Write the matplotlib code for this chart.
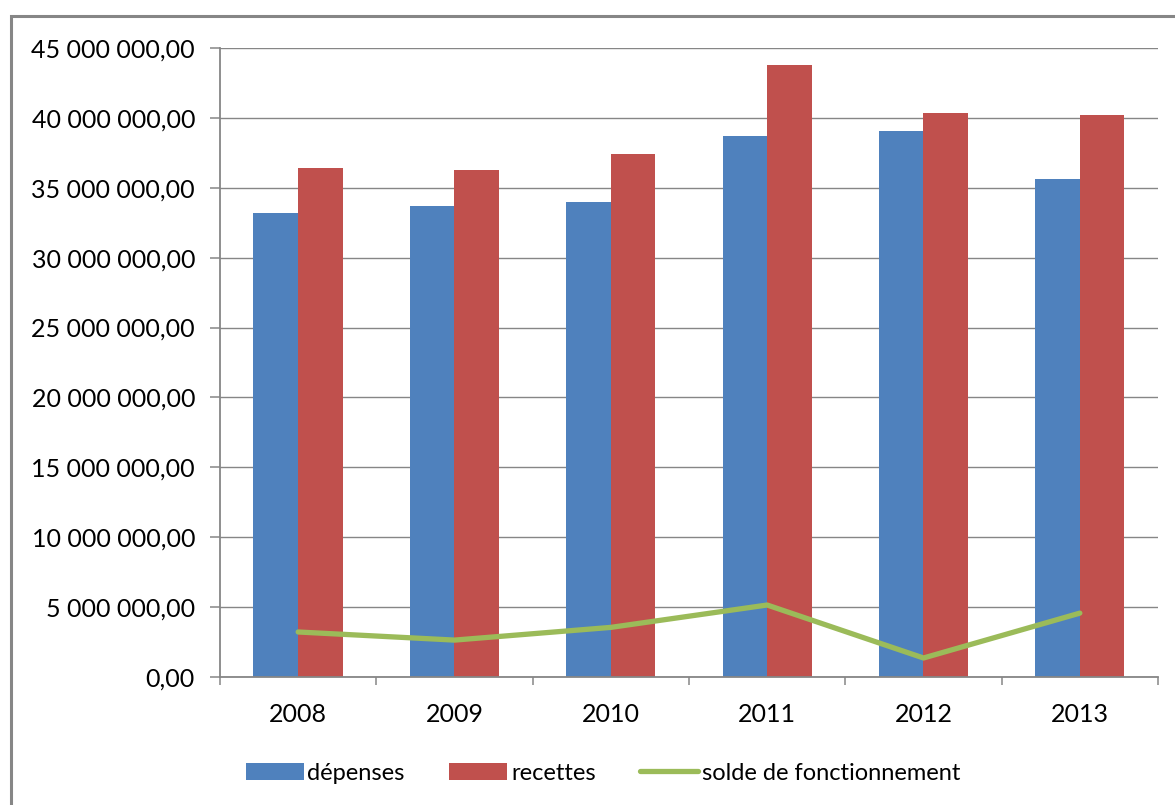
import matplotlib.pyplot as plt
import matplotlib.patches as mpatches
from matplotlib.ticker import FuncFormatter, FixedLocator
import numpy as np

plt.rcParams['font.family'] = ['Lato', 'DejaVu Sans']

# data
years = ['2008', '2009', '2010', '2011', '2012', '2013']
depenses = [33.20e6, 33.70e6, 33.99e6, 38.72e6, 39.08e6, 35.64e6]
recettes = [36.43e6, 36.28e6, 37.43e6, 43.80e6, 40.37e6, 40.22e6]
solde = [3.22e6, 2.64e6, 3.55e6, 5.15e6, 1.36e6, 4.57e6]

blue = '#4F81BD'
red = '#C0504D'
green = '#9BBB59'
grey = '#868686'

fig = plt.figure(figsize=(11.75, 8.05), dpi=100)
ax = fig.add_axes([220 / 1175, 1 - 677 / 805, 938 / 1175, (677 - 48) / 805])

x = np.arange(len(years))
w = 1 / 3.5
b1 = ax.bar(x - w / 2, depenses, w, color=blue, label='dépenses', zorder=2)
b2 = ax.bar(x + w / 2, recettes, w, color=red, label='recettes', zorder=2)
l1, = ax.plot(x, solde, color=green, lw=3.8, label='solde de fonctionnement',
              zorder=3, solid_capstyle='round')

ax.set_xlim(-0.5, len(years) - 0.5)
ax.set_ylim(0, 45e6)
ax.set_yticks(np.arange(0, 45e6 + 1, 5e6))


def fr_fmt(v, pos):
    s = f"{v:,.2f}"
    return s.replace(',', ' ').replace('.', ',')


ax.yaxis.set_major_formatter(FuncFormatter(fr_fmt))
ax.set_xticks(x)
ax.set_xticklabels(years)
ax.xaxis.set_minor_locator(FixedLocator(np.arange(-0.5, len(years), 1)))

ax.grid(axis='y', color=grey, lw=1.0, zorder=0)
ax.set_axisbelow(True)
for s in ['top', 'right']:
    ax.spines[s].set_visible(False)
for s in ['left', 'bottom']:
    ax.spines[s].set_color(grey)
    ax.spines[s].set_linewidth(1.3)

ax.tick_params(axis='y', length=7, width=1.1, color=grey, pad=11,
               labelsize=18, labelcolor='black')
ax.tick_params(axis='x', which='major', length=0, pad=19, labelsize=18)
ax.tick_params(axis='x', which='minor', length=6, width=1.1, color=grey)

fig.legend([b1, b2, l1], ['dépenses', 'recettes', 'solde de fonctionnement'],
           loc='center', bbox_to_anchor=(603 / 1175, 1 - 773 / 805), ncol=3,
           frameon=False, fontsize=17, handlelength=2.45, handleheight=0.75,
           handletextpad=0.15, columnspacing=1.9)

border = mpatches.Rectangle((10.5 / 1175, -0.1), 1.2, 1.1 - 16 / 805,
                            transform=fig.transFigure, fill=False,
                            edgecolor=grey, lw=2.2)
fig.patches.append(border)

plt.savefig('out.png', dpi=100)
